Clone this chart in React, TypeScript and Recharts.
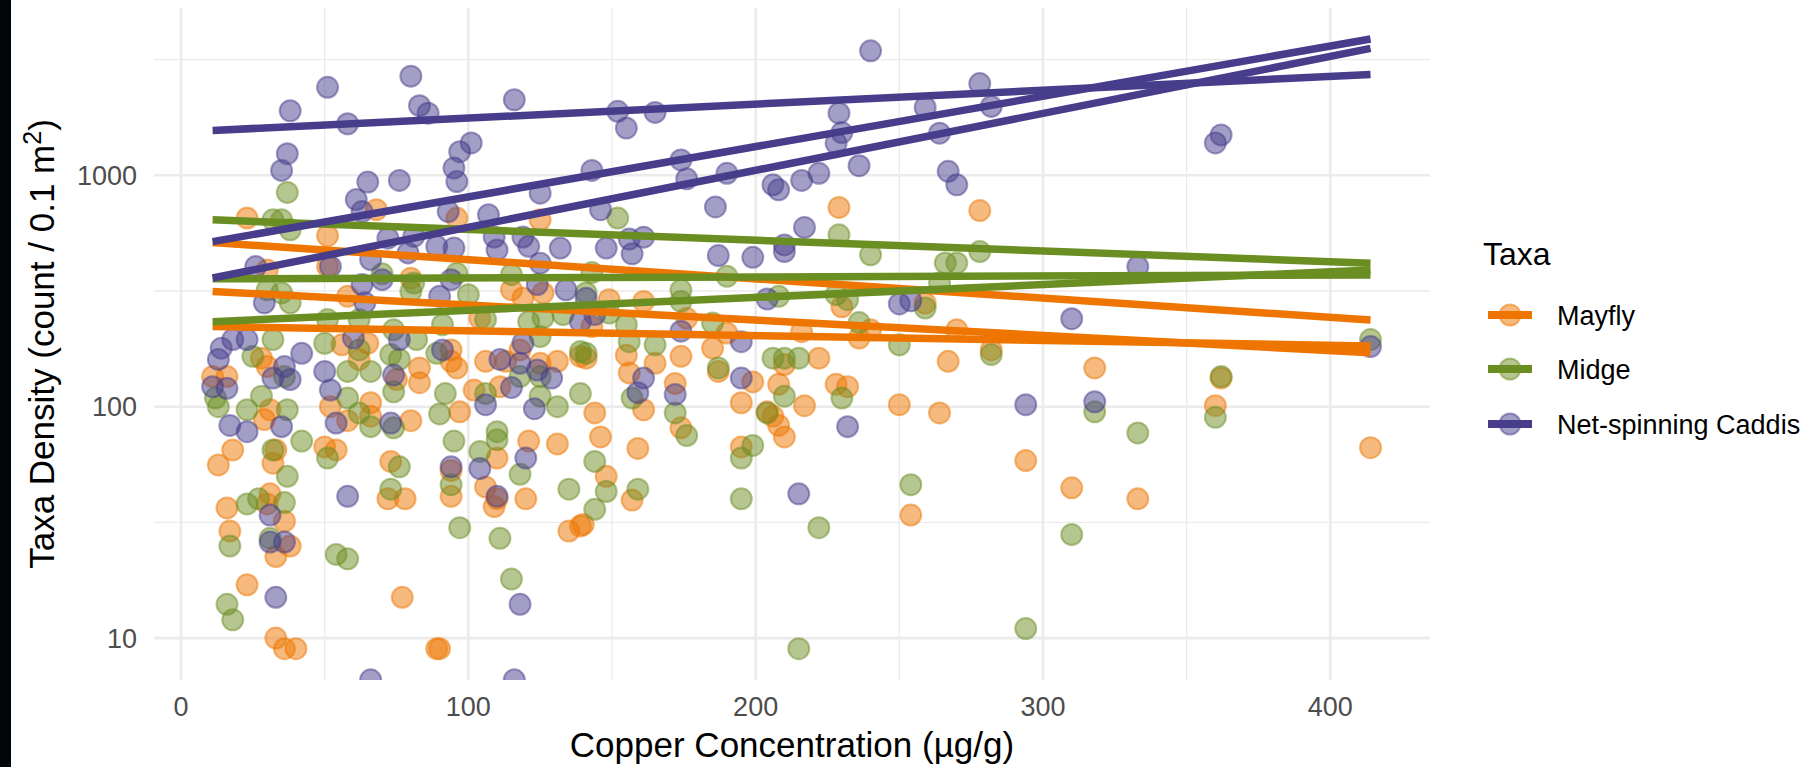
import React from 'react';
import { ScatterChart, Scatter, XAxis, YAxis, CartesianGrid } from 'recharts';

const FONT = '"Liberation Sans", Arial, Helvetica, sans-serif';

const taxaNames = ['Mayfly', 'Midge', 'Net-spinning Caddis'];
const taxaColors = ['#EE7600', '#6B8E23', '#483D8B'];

// Observations: [copper (µg/g), density (count / 0.1 m²)]
const mayflyObs: number[][] = [
  [23, 653], [68, 710], [51, 548], [96, 653], [125, 642], [30, 390], [51, 403], [80, 359], [58, 300],
  [115, 320], [119, 295], [126, 310], [104, 241], [94, 176], [11, 135], [16, 135], [28, 162], [30, 149],
  [62, 160], [83, 147], [94, 157], [96, 147], [106, 157], [113, 157], [118, 176], [125, 154], [131, 157],
  [139, 165], [65, 188], [56, 185], [75, 131], [111, 122], [102, 118],
  [13, 56], [18, 65], [16, 36.5], [17, 29], [23, 17], [33, 10], [36, 9], [40, 9], [89, 9], [90, 9],
  [77, 15], [31, 97], [29, 88], [32, 57], [33, 65], [31, 42], [30, 38], [36, 32], [33, 22.5], [38, 25],
  [52, 100], [50, 67], [54, 65], [58, 87], [66, 91], [66, 104], [73, 58], [72, 40], [78, 40], [80, 87],
  [83, 127], [94, 53], [94, 41], [97, 95], [106, 45], [110, 40], [109, 37], [110, 60], [120, 40],
  [121, 71], [131, 69], [135, 29], [139, 30.5], [144, 94],
  [229, 726], [278, 704], [149, 290], [161, 285], [176, 241], [230, 270], [259, 280], [143, 222],
  [216, 211], [236, 198], [240, 215], [270, 215], [282, 176], [267, 157], [185, 179], [190, 208],
  [174, 165], [165, 154], [155, 167], [156, 140], [222, 162], [210, 152], [187, 142], [199, 128],
  [172, 126], [208, 125], [228, 125], [232, 122], [141, 162],
  [146, 74], [159, 66], [161, 97], [148, 50], [157, 39.5], [140, 31], [174, 81], [195, 104], [195, 67],
  [204, 95], [206, 91], [208, 83], [210, 74], [217, 101], [250, 102], [264, 94], [294, 58.5],
  [310, 44.6], [254, 34],
  [318, 147], [362, 133], [360, 101], [333, 40], [414, 66.5],
];

const midgeObs: number[][] = [
  [37, 843], [35, 642], [32, 642], [38, 581], [70, 375], [81, 342], [96, 377], [100, 305], [115, 372],
  [30, 320], [35, 310], [38, 281], [51, 238], [62, 238], [80, 315], [91, 226], [106, 238], [126, 242],
  [141, 310], [133, 250], [121, 233], [74, 215], [82, 195], [32, 195], [50, 188], [73, 168], [62, 176],
  [58, 142], [66, 142], [76, 160], [89, 170], [125, 201], [139, 173], [25, 165], [36, 135], [118, 135],
  [125, 135], [139, 114], [92, 114], [74, 116],
  [12, 109], [13, 100], [28, 111], [23, 97], [37, 97], [42, 71], [32, 65], [37, 50], [23, 38], [27, 40],
  [36, 38.5], [17, 25], [31, 27], [16, 14], [18, 12], [54, 23], [58, 22], [51, 60], [58, 109], [62, 94],
  [66, 82], [74, 81], [73, 44], [76, 55], [90, 93], [95, 71], [94, 46], [97, 30], [104, 64], [110, 72],
  [110, 78], [111, 27], [115, 18], [118, 51], [125, 111], [131, 100], [135, 44], [144, 58], [144, 36],
  [106, 114],
  [152, 653], [229, 553], [240, 453], [278, 468], [266, 418], [270, 418], [264, 342], [190, 366],
  [143, 380], [174, 319], [174, 285], [208, 300], [228, 305], [232, 290], [259, 267], [149, 254],
  [155, 226], [156, 191], [165, 185], [185, 230], [236, 231], [250, 185], [141, 170], [206, 162],
  [210, 162], [215, 162], [187, 147], [282, 168], [157, 109],
  [172, 94], [176, 75], [148, 43], [159, 44], [195, 60], [199, 68], [195, 40], [204, 94], [210, 111],
  [230, 109], [222, 30], [254, 46], [294, 11], [310, 28], [215, 9],
  [362, 135], [414, 195], [318, 95], [333, 77], [360, 90],
];

const caddisObs: number[][] = [
  [152, 1890], [165, 1870], [155, 1600], [240, 3450], [278, 2490], [282, 1985], [259, 1965], [229, 1855],
  [230, 1530], [228, 1375], [264, 1520], [236, 1100], [267, 1040], [270, 910], [143, 1050], [174, 1165],
  [176, 965], [190, 1020], [222, 1020], [216, 950], [206, 910], [208, 865], [186, 730], [146, 710],
  [217, 595], [210, 500], [210, 468], [148, 485], [156, 530], [161, 540], [157, 458], [187, 450],
  [199, 442], [204, 292], [141, 294], [144, 250], [250, 278], [254, 287], [310, 240], [174, 212],
  [195, 191], [161, 133], [195, 133], [159, 115], [172, 113], [294, 102], [232, 82], [215, 42],
  [362, 1495], [360, 1380], [333, 403], [414, 182], [318, 105],
  [38, 1900], [51, 2400], [58, 1670], [80, 2680], [83, 2000], [86, 1855], [116, 2120], [37, 1240],
  [35, 1050], [65, 935], [76, 950], [61, 785], [63, 697], [101, 1380], [97, 1265], [95, 1075], [96, 940],
  [93, 697], [107, 675], [125, 837], [109, 541], [110, 476], [119, 541], [121, 493], [125, 417],
  [132, 485], [89, 493], [95, 485], [72, 535], [81, 544], [79, 462], [66, 432], [52, 403], [26, 403],
  [63, 337], [70, 354], [94, 354], [124, 337], [134, 320], [29, 281], [64, 281], [90, 300], [139, 233],
  [76, 195], [14, 179], [18, 195], [23, 195], [13, 160], [42, 170], [60, 198], [111, 160], [118, 154],
  [119, 188], [124, 144], [129, 133], [36, 149], [32, 133], [38, 131], [74, 137], [91, 176], [50, 142],
  [11, 122], [16, 120], [52, 118], [115, 121], [123, 98], [17, 83], [23, 78], [35, 82], [54, 85],
  [73, 85], [106, 102], [94, 55], [104, 54], [120, 60], [110, 41], [58, 41], [31, 34], [31, 26],
  [36, 26], [33, 15], [118, 14],
  // zero counts, drawn on the lower panel edge
  [66, 6.6], [116, 6.6],
];

// Fitted lines (log-linear), value at start and end of the copper range
const fitCopperRange = [11, 414];
const mayflyFits = [[512, 237], [315, 171], [222, 183]];
const midgeFits = [[642, 417], [357, 371], [233, 390]];
const caddisFits = [[1562, 2729], [517, 3880], [360, 3534]];

const xMajorTicks = [0, 100, 200, 300, 400];
const xMinorGrid = [50, 150, 250, 350];
const yMajorTicks = [10, 100, 1000];
const yMinorGrid = [31.62, 316.2, 3162];
const xDomain = [-9.4, 434.7];
const yDomain = [6.59, 5284];

const obsByTaxon = [mayflyObs, midgeObs, caddisObs];
const fitsByTaxon = [mayflyFits, midgeFits, caddisFits];

const toPoints = (arr: number[][]) => arr.map(([x, y]) => ({ x, y }));
const toLine = (pair: number[]) => [
  { x: fitCopperRange[0], y: pair[0] },
  { x: fitCopperRange[1], y: pair[1] },
];

const makeDot = (color: string) => (p: any) => (
  <circle
    cx={p.cx}
    cy={p.cy}
    r={10.5}
    fill={color}
    fillOpacity={0.5}
    stroke={color}
    strokeOpacity={0.5}
    strokeWidth={2}
  />
);
const noDot = () => <g />;

export default function App() {
  const legendY = [315, 369, 424];
  return (
    <div
      style={{
        position: 'absolute',
        left: 0,
        top: 0,
        width: 1812,
        height: 767,
        background: '#fff',
        fontFamily: FONT,
        overflow: 'hidden',
      }}
    >
      <ScatterChart width={1812} height={767} margin={{ top: 8, right: 382, bottom: 37, left: 54 }}>
        <CartesianGrid
          horizontalValues={yMinorGrid}
          verticalValues={xMinorGrid}
          stroke="#EBEBEB"
          strokeWidth={1.3}
        />
        <CartesianGrid
          horizontalValues={yMajorTicks}
          verticalValues={xMajorTicks}
          stroke="#EBEBEB"
          strokeWidth={2.6}
        />
        <XAxis
          type="number"
          dataKey="x"
          domain={xDomain}
          ticks={xMajorTicks}
          interval={0}
          allowDataOverflow
          axisLine={false}
          tickLine={false}
          tickSize={0}
          tickMargin={17}
          height={50}
          tick={{ fontSize: 27, fill: '#4D4D4D', fontFamily: FONT }}
        />
        <YAxis
          type="number"
          dataKey="y"
          scale="log"
          domain={yDomain}
          ticks={yMajorTicks}
          interval={0}
          allowDataOverflow
          axisLine={false}
          tickLine={false}
          tickSize={0}
          tickMargin={17}
          width={100}
          tick={{ fontSize: 27, fill: '#4D4D4D', fontFamily: FONT }}
        />
        {obsByTaxon.map((obs, i) => (
          <Scatter
            key={'pts' + i}
            name={taxaNames[i]}
            data={toPoints(obs)}
            fill={taxaColors[i]}
            shape={makeDot(taxaColors[i])}
            isAnimationActive={false}
          />
        ))}
        {fitsByTaxon.map((fits, i) =>
          fits.map((pair, j) => (
            <Scatter
              key={'fit' + i + '-' + j}
              data={toLine(pair)}
              fill="none"
              line={{ stroke: taxaColors[i], strokeWidth: 7.5, fill: 'none', strokeLinecap: 'butt' }}
              lineType="joint"
              shape={noDot}
              legendType="none"
              isAnimationActive={false}
            />
          ))
        )}
      </ScatterChart>
      <svg
        width={1812}
        height={767}
        style={{ position: 'absolute', left: 0, top: 0, pointerEvents: 'none', fontFamily: FONT }}
      >
        <rect x={0} y={0} width={11} height={767} fill="#020608" />
        <text x={792} y={757} textAnchor="middle" fontSize={35} fill="#000">
          Copper Concentration (µg/g)
        </text>
        <text transform="translate(53.5,344) rotate(-90)" textAnchor="middle" fontSize={35} fill="#000">
          Taxa Density (count / 0.1 m
          <tspan dy={-13} fontSize={25}>2</tspan>
          <tspan dy={13}>)</tspan>
        </text>
        <text x={1483} y={265} fontSize={32} fill="#000">
          Taxa
        </text>
        {taxaNames.map((name, i) => (
          <g key={name}>
            <circle
              cx={1510}
              cy={legendY[i]}
              r={10.5}
              fill={taxaColors[i]}
              fillOpacity={0.5}
              stroke={taxaColors[i]}
              strokeOpacity={0.5}
              strokeWidth={2}
            />
            <line x1={1488} x2={1532} y1={legendY[i]} y2={legendY[i]} stroke={taxaColors[i]} strokeWidth={8} />
            <text x={1557} y={legendY[i] + 9.7} fontSize={27} fill="#000">
              {name}
            </text>
          </g>
        ))}
      </svg>
    </div>
  );
}
